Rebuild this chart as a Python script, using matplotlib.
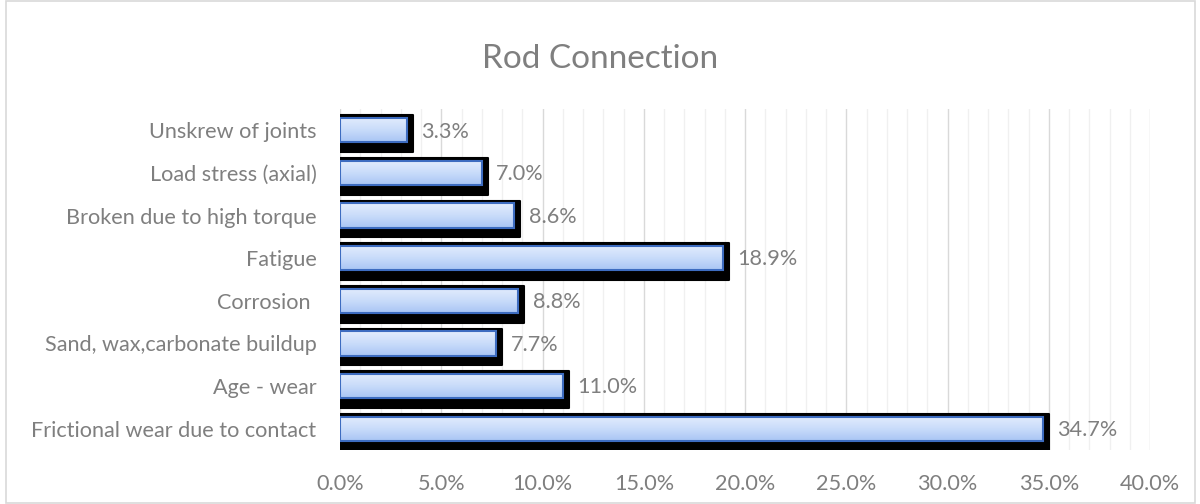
import numpy as np
import matplotlib
matplotlib.use("Agg")
import matplotlib.pyplot as plt
from matplotlib.patches import Rectangle
from matplotlib.ticker import MultipleLocator, FuncFormatter
from matplotlib.colors import LinearSegmentedColormap

categories = ["Frictional wear due to contact", "Age - wear", "Sand, wax,carbonate buildup",
              "Corrosion ", "Fatigue", "Broken due to high torque", "Load stress (axial)",
              "Unskrew of joints"]
values = [34.7, 11.0, 7.7, 8.8, 18.9, 8.6, 7.0, 3.3]
title = "Rod Connection"

plt.rcParams['font.family'] = ['Lato', 'DejaVu Sans']
gray = "#7f7f7f"
fs = 15.6

fig = plt.figure(figsize=(12, 5.04), dpi=100)
fig.patches.append(Rectangle((6/1200, 1/504), 1189/1200, 502/504, transform=fig.transFigure,
                             fill=False, edgecolor="#d9d9d9", linewidth=1.2))
ax = fig.add_axes([340/1200, 54/504, 810/1200, 341/504])

y = np.arange(len(categories))
bar_h = 0.57
# shadows
ax.barh(y - 0.08, [v + 0.3 for v in values], height=0.86, color="black",
        edgecolor="black", linewidth=1.5, joinstyle="round", zorder=2)
bars = ax.barh(y, values, height=bar_h, color="none", edgecolor="#3d6cc0",
               linewidth=1.5, zorder=4)
grad = np.linspace(0, 1, 64).reshape(-1, 1)
cmap = LinearSegmentedColormap.from_list("g", ["#a9c5f4", "#c9dcfa", "#e2ecfd"])
for b in bars:
    x0, y0 = b.get_x(), b.get_y()
    w, h = b.get_width(), b.get_height()
    im = ax.imshow(grad, extent=[x0, x0 + w, y0, y0 + h], aspect="auto", cmap=cmap,
                   origin="lower", zorder=3, interpolation="bicubic")
    im.set_clip_path(b)
for yy, v in zip(y, values):
    ax.text(v + 0.72, yy - 0.03, f"{v:.1f}%", va="center", ha="left", color=gray,
            fontsize=fs, zorder=5)

ax.set_xlim(0, 40)
ax.set_ylim(-0.5, len(categories) - 0.5)
ax.set_yticks(y)
ax.set_yticklabels(categories)
ax.xaxis.set_major_locator(MultipleLocator(5))
ax.xaxis.set_minor_locator(MultipleLocator(1))
ax.xaxis.set_major_formatter(FuncFormatter(lambda v, p: f"{v:.1f}%"))
ax.grid(which="major", axis="x", color="#d9d9d9", linewidth=1.0, zorder=0)
ax.grid(which="minor", axis="x", color="#f0f0f0", linewidth=1.0, zorder=0)
ax.set_axisbelow(True)
for s in ax.spines.values():
    s.set_visible(False)
ax.tick_params(axis="both", which="both", length=0, colors=gray, labelsize=fs)
ax.tick_params(axis="x", pad=17)
ax.tick_params(axis="y", pad=17)
fig.text(0.5, 1 - 59/504, title, ha="center", va="center", fontsize=24, color=gray)

fig.savefig("out.png", dpi=100)
